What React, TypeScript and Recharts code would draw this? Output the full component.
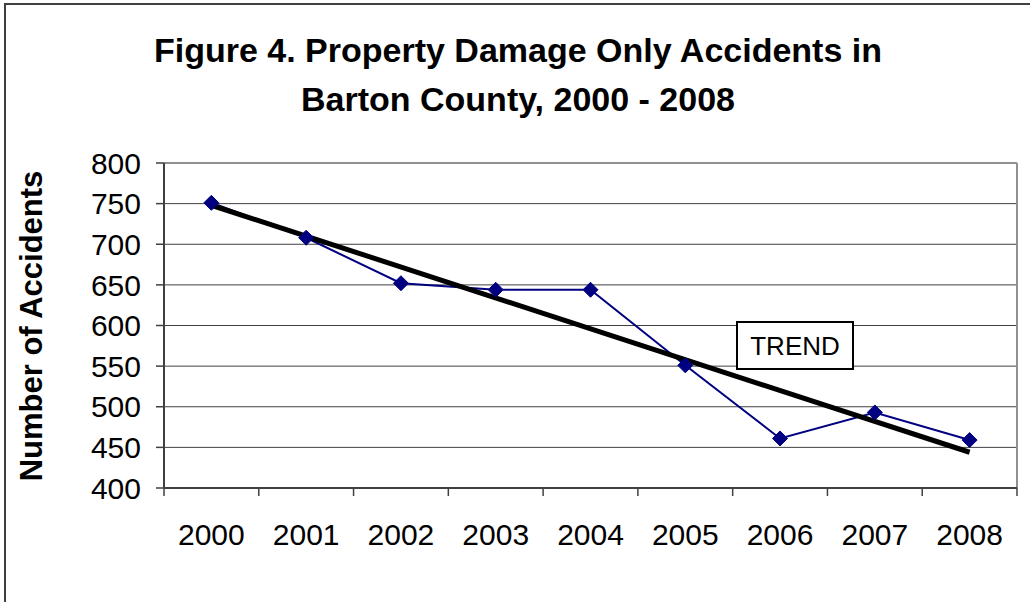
import { LineChart, Line, XAxis, YAxis, CartesianGrid, ReferenceLine } from "recharts";

const YEARS = ["2000", "2001", "2002", "2003", "2004", "2005", "2006", "2007", "2008"];
const ACCIDENTS = [751, 708, 652, 644, 644, 551, 461, 493, 459];
// trend line: only the two ends are drawn
const TREND = [748, null, null, null, null, null, null, null, 444];
const Y_TICKS = [400, 450, 500, 550, 600, 650, 700, 750, 800];
const X_TICKS = [0, 1, 2, 3, 4, 5, 6, 7, 8];
const X_EDGES = [-0.5, 0.5, 1.5, 2.5, 3.5, 4.5, 5.5, 6.5, 7.5, 8.5];

const data = YEARS.map((year, i) => ({
  idx: i,
  year,
  accidents: ACCIDENTS[i],
  trend: TREND[i],
}));

const FONT = '"Liberation Sans", Arial, sans-serif';

function Diamond(props: any) {
  const { cx, cy } = props;
  if (cx == null || cy == null) return null;
  const r = 7.5;
  return (
    <polygon
      points={`${cx},${cy - r} ${cx + r},${cy} ${cx},${cy + r} ${cx - r},${cy}`}
      fill="#000080"
      stroke="#000080"
    />
  );
}

// small mark between categories, no label (its axis sits 1px under the main one)
function EdgeTick(props: any) {
  const { x, y } = props;
  return <line x1={x} y1={y - 1} x2={x} y2={y + 7} stroke="#404040" strokeWidth={1.5} />;
}

export default function App() {
  return (
    <div
      style={{
        position: "fixed",
        left: 0,
        top: 0,
        width: 1030,
        height: 602,
        overflow: "hidden",
        background: "#fff",
        fontFamily: FONT,
      }}
    >
      <div
        style={{
          position: "absolute",
          left: 4,
          top: 3,
          width: 1060,
          height: 640,
          border: "2px solid #404040",
        }}
      />
      <div style={{ position: "absolute", left: 0, top: 0 }}>
        <LineChart
          width={1030}
          height={602}
          data={data}
          margin={{ top: 163, right: 13, left: 44, bottom: 112 }}
        >
          <CartesianGrid horizontal vertical={false} stroke="#404040" strokeWidth={1} />
          <XAxis
            xAxisId="edges"
            type="number"
            dataKey="idx"
            domain={[-0.5, 8.5]}
            ticks={X_EDGES}
            interval={0}
            height={1}
            axisLine={false}
            tickLine={false}
            tickSize={0}
            tickMargin={0}
            tick={<EdgeTick />}
          />
          <XAxis
            type="number"
            dataKey="idx"
            domain={[-0.5, 8.5]}
            ticks={X_TICKS}
            interval={0}
            tickFormatter={(v) => YEARS[v as number]}
            height={1}
            tickLine={false}
            tickSize={0}
            tickMargin={36}
            axisLine={{ stroke: "#404040", strokeWidth: 2 }}
            tick={{ fontSize: 30, fill: "#000", fontFamily: FONT }}
          />
          <YAxis
            type="number"
            domain={[400, 800]}
            ticks={Y_TICKS}
            interval={0}
            width={120}
            tickSize={8}
            tickMargin={15}
            axisLine={{ stroke: "#404040", strokeWidth: 2 }}
            tickLine={{ stroke: "#404040", strokeWidth: 1.5 }}
            tick={{ fontSize: 30, fill: "#000", fontFamily: FONT }}
          />
          <ReferenceLine y={800} stroke="#909090" strokeWidth={2} />
          <ReferenceLine x={8.5} stroke="#909090" strokeWidth={2} />
          <Line
            type="linear"
            dataKey="accidents"
            stroke="#000080"
            strokeWidth={2}
            dot={<Diamond />}
            activeDot={false}
            isAnimationActive={false}
          />
          <Line
            type="linear"
            dataKey="trend"
            stroke="#000"
            strokeWidth={5}
            dot={false}
            activeDot={false}
            connectNulls
            isAnimationActive={false}
          />
        </LineChart>
      </div>
      <svg
        width={1030}
        height={602}
        style={{ position: "absolute", left: 0, top: 0, pointerEvents: "none" }}
      >
        <text x={518} y={62} textAnchor="middle" fontSize={34} fontWeight="bold" fontFamily={FONT}>
          Figure 4. Property Damage Only Accidents in
        </text>
        <text x={518} y={111} textAnchor="middle" fontSize={34} fontWeight="bold" fontFamily={FONT}>
          Barton County, 2000 - 2008
        </text>
        <text
          x={42}
          y={326}
          transform="rotate(-90 42 326)"
          textAnchor="middle"
          fontSize={31}
          fontWeight="bold"
          fontFamily={FONT}
        >
          Number of Accidents
        </text>
        <rect x={737} y={322} width={116} height={47} fill="#fff" stroke="#000" strokeWidth={2} />
        <text x={795} y={355} textAnchor="middle" fontSize={26} fontFamily={FONT}>
          TREND
        </text>
      </svg>
    </div>
  );
}
